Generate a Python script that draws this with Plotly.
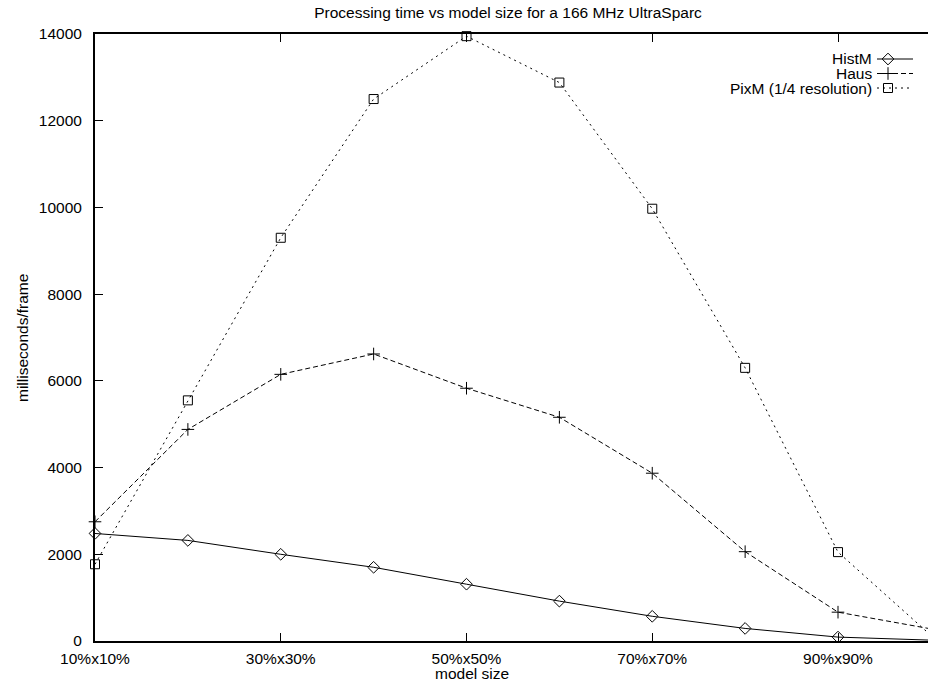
import plotly.graph_objects as go

# ---- data ----
model_sizes = [10, 20, 30, 40, 50, 60, 70, 80, 90, 100]
tick_sizes = [10, 30, 50, 70, 90]
tick_labels = ["10%x10%", "30%x30%", "50%x50%", "70%x70%", "90%x90%"]
histm = [2480, 2320, 2000, 1700, 1310, 920, 570, 290, 90, 20]
haus = [2750, 4880, 6150, 6620, 5830, 5160, 3870, 2060, 665, 280]
pixm = [1770, 5550, 9300, 12500, 13950, 12880, 9970, 6300, 2050, 130]
y_ticks = [0, 2000, 4000, 6000, 8000, 10000, 12000, 14000]

names = ["HistM", "Haus", "PixM (1/4 resolution)"]
series = [histm, haus, pixm]
symbols = ["diamond-open", "cross-thin-open", "square-open"]
msizes = [9, 9, 9]
dashes = ["solid", "5px,3px", "2px,4px"]

FONT = "Liberation Sans, Arial, Helvetica, sans-serif"
FS = 15.5
W, H = 928, 681
L, R, T, B = 95, 0, 34, 40
pw = W - L - R
ph = H - T - B

xpos = [s / 10 for s in model_sizes]
px_per_unit = (838 - 95) / 8.0
xmax = 1 + pw / px_per_unit

fig = go.Figure()
for name, vals, sym, ms, dash in zip(names, series, symbols, msizes, dashes):
    fig.add_trace(go.Scatter(
        x=xpos, y=vals, mode="lines+markers", name=name,
        line=dict(color="black", width=1, dash=dash),
        marker=dict(symbol=sym, size=ms, color="black",
                    line=dict(color="black", width=1)),
        cliponaxis=False, showlegend=False,
    ))

# page-pixel -> paper fraction helpers
def px2fx(px):
    return (px - L) / pw

def py2fy(py):
    return (H - B - py) / ph

key_rows = [59, 73.5, 88]
for name, sym, ms, dash, ry in zip(names, symbols, msizes, dashes, key_rows):
    fy = py2fy(ry)
    fig.add_trace(go.Scatter(
        x=[px2fx(877), px2fx(913)], y=[fy, fy], mode="lines",
        line=dict(color="black", width=1, dash=dash),
        xaxis="x2", yaxis="y2", showlegend=False, hoverinfo="skip"))
    fig.add_trace(go.Scatter(
        x=[px2fx(888)], y=[fy], mode="markers",
        marker=dict(symbol=sym, size=ms, color="black",
                    line=dict(color="black", width=1)),
        xaxis="x2", yaxis="y2", showlegend=False, hoverinfo="skip",
        cliponaxis=False))
    fig.add_annotation(text=name, xref="paper", yref="paper",
                       x=px2fx(874), y=fy, xanchor="right", yanchor="middle",
                       showarrow=False, font=dict(family=FONT, size=FS, color="black"))

fig.update_layout(
    width=W, height=H,
    margin=dict(l=L, r=R, t=T, b=B, pad=0),
    paper_bgcolor="white", plot_bgcolor="white",
    title=dict(text="Processing time vs model size for a 166 MHz UltraSparc",
               x=508 / W, xref="container", xanchor="center",
               y=1 - 13 / H, yref="container", yanchor="middle",
               font=dict(family=FONT, size=FS, color="black")),
    xaxis=dict(range=[1, xmax], tickvals=[s / 10 for s in tick_sizes],
               ticktext=tick_labels, ticks="inside", ticklen=8,
               tickcolor="black", tickwidth=1,
               showline=True, linecolor="black", linewidth=2,
               mirror="allticks", showgrid=False, zeroline=False,
               ticklabelstandoff=2,
               tickfont=dict(family=FONT, size=FS, color="black")),
    yaxis=dict(range=[0, 14000], tickvals=y_ticks,
               ticktext=[str(v) for v in y_ticks],
               ticks="inside", ticklen=8, tickcolor="black", tickwidth=1,
               showline=True, linecolor="black", linewidth=2, mirror=False,
               showgrid=False, zeroline=False, ticklabelstandoff=8,
               tickfont=dict(family=FONT, size=FS, color="black")),
    xaxis2=dict(overlaying="x", range=[0, 1], visible=False),
    yaxis2=dict(overlaying="y", range=[0, 1], visible=False),
    showlegend=False,
)

fig.add_annotation(text="model size", xref="paper", yref="paper",
                   x=px2fx(472), y=py2fy(673), xanchor="center", yanchor="middle",
                   showarrow=False, font=dict(family=FONT, size=FS, color="black"))
fig.add_annotation(text="milliseconds/frame", xref="paper", yref="paper",
                   x=px2fx(22), y=py2fy(338), xanchor="center", yanchor="middle",
                   textangle=-90, showarrow=False,
                   font=dict(family=FONT, size=FS, color="black"))

fig.write_html("out.html",
               config={"displayModeBar": False},
               post_script="document.body.style.margin='0';"
                           "document.body.style.overflow='hidden';")
